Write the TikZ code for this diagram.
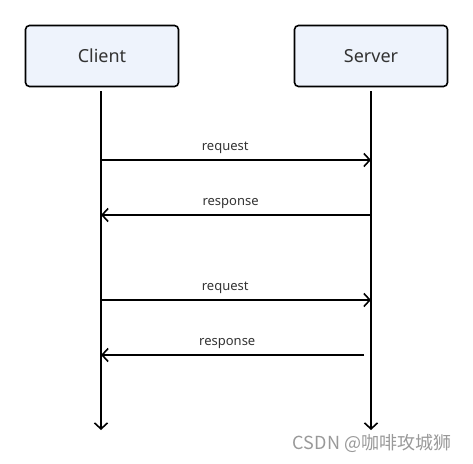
\documentclass[tikz,border=0pt]{standalone}
\usepackage{fontspec}
\setmainfont{Noto Sans}
\newfontfamily\cjkfont{Noto Sans CJK SC}
\usetikzlibrary{arrows.meta}
\definecolor{actorfill}{HTML}{EEF3FC}
\definecolor{inkgray}{HTML}{333333}
\providecommand{\Xc}{101}
\providecommand{\Xs}{371}
\providecommand{\Ytop}{56}
\providecommand{\Ybot}{430}
\providecommand{\lw}{1.6pt}
\tikzset{
  actor/.style={rectangle, rounded corners=4pt, draw=black, line width=\lw,
                fill=actorfill, text=inkgray, font=\fontsize{18}{20}\selectfont,
                minimum width=153pt, minimum height=61pt},
  life/.style={draw=black, line width=\lw,
               -{Straight Barb[length=6pt,width=13pt,line width=\lw]}},
  msg/.style={draw=black, line width=\lw,
              -{Straight Barb[length=6pt,width=13pt,line width=\lw]}},
  msglabel/.style={font=\fontsize{13}{15}\selectfont, text=inkgray,
                   anchor=south, inner sep=0pt, yshift=6pt},
  wmark/.style={font=\cjkfont\fontsize{18}{20}\selectfont, text=black!40}
}
\begin{document}
\begin{tikzpicture}[x=1pt, y=-1pt]
\useasboundingbox (0,0) rectangle (473,463);

\node (client) [actor] at (\Xc+1,\Ytop) {Client};
\node (server) [actor] at (\Xs,\Ytop) {Server};

\coordinate (clientEnd) at (\Xc,\Ybot);
\coordinate (serverEnd) at (\Xs,\Ybot);

% Lifelines
\draw[life] ([yshift=-4pt]client.south -| clientEnd) -- (clientEnd);
\draw[life] ([yshift=-4pt]server.south -| serverEnd) -- (serverEnd);

\foreach \i/\y in {1/160, 2/215, 3/300, 4/355}{
  \coordinate (c\i) at (\Xc,\y);
  \coordinate (s\i) at (\Xs,\y);
}

% Messages
\draw[msg] (c1) -- node[msglabel, pos=0.46] {request} (s1);
\draw[msg] (s2) -- node[msglabel, pos=0.52] {response} (c2);
\draw[msg] (c3) -- node[msglabel, pos=0.46] {request} (s3);
\draw[msg] ([xshift=-7pt]s4) -- node[msglabel, pos=0.52] {response} (c4);

\node (watermark) [wmark] at (372,443) {CSDN @咖啡攻城狮};

\end{tikzpicture}
\end{document}
